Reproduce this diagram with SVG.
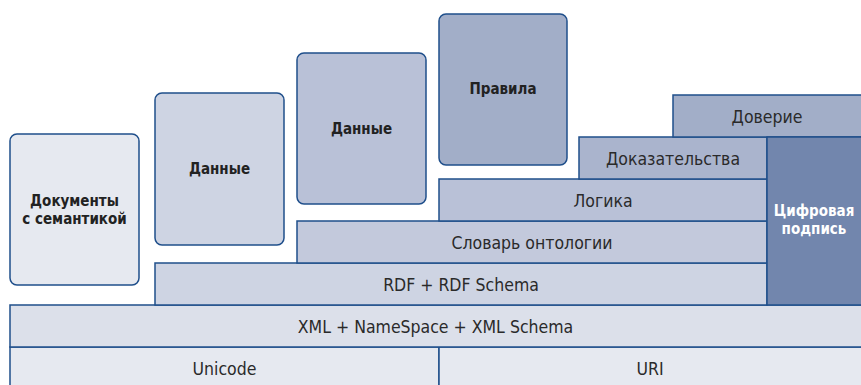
<svg xmlns="http://www.w3.org/2000/svg" width="861" height="385" viewBox="0 0 861 385">
  <style>
    .box { stroke: #1f4f8b; stroke-width: 1.5; }
    .lbl { font-family: "DejaVu Sans Condensed", "DejaVu Sans", sans-serif; font-stretch: condensed; font-size: 17.5px; fill: #2a2a2a; text-anchor: middle; }
    .bold { font-weight: bold; font-size: 15px; fill: #222; }
    .white { fill: #ffffff; }
  </style>
  <rect width="861" height="385" fill="#ffffff"/>

  <!-- free-standing rounded blocks -->
  <g id="docs">
    <rect class="box" x="10" y="134" width="129" height="151" rx="7" fill="#e6e9f0"/>
    <text class="lbl bold" x="74.5" y="206">Документы</text>
    <text class="lbl bold" x="74.5" y="224">с семантикой</text>
  </g>
  <g id="data1">
    <rect class="box" x="155" y="93" width="129" height="152" rx="7" fill="#ced4e3"/>
    <text class="lbl bold" x="219.5" y="174">Данные</text>
  </g>
  <g id="data2">
    <rect class="box" x="297" y="53" width="129" height="151" rx="7" fill="#b9c1d7"/>
    <text class="lbl bold" x="361.5" y="134">Данные</text>
  </g>
  <g id="rules">
    <rect class="box" x="439" y="14" width="128" height="151" rx="7" fill="#a2aec8"/>
    <text class="lbl bold" x="503" y="94">Правила</text>
  </g>

  <!-- layered stack -->
  <g id="unicode">
    <rect class="box" x="10" y="347" width="429" height="45" fill="#e6e9f0"/>
    <text class="lbl" x="224.5" y="375">Unicode</text>
  </g>
  <g id="uri">
    <rect class="box" x="439" y="347" width="430" height="45" fill="#e6e9f0"/>
    <text class="lbl" x="650" y="375">URI</text>
  </g>
  <g id="xml">
    <rect class="box" x="10" y="305" width="859" height="42" fill="#dce0ea"/>
    <text class="lbl" x="435.5" y="333">XML + NameSpace + XML Schema</text>
  </g>
  <g id="rdf">
    <rect class="box" x="155" y="263" width="612" height="42" fill="#ced4e3"/>
    <text class="lbl" x="461" y="291">RDF + RDF Schema</text>
  </g>
  <g id="ontology">
    <rect class="box" x="297" y="221" width="470" height="42" fill="#c3c9dc"/>
    <text class="lbl" x="532" y="249">Словарь онтологии</text>
  </g>
  <g id="logic">
    <rect class="box" x="439" y="179" width="328" height="42" fill="#b9c1d7"/>
    <text class="lbl" x="603" y="207">Логика</text>
  </g>
  <g id="proof">
    <rect class="box" x="579" y="137" width="188" height="42" fill="#aab4cd"/>
    <text class="lbl" x="673" y="165">Доказательства</text>
  </g>
  <g id="trust">
    <rect class="box" x="673" y="95" width="196" height="42" fill="#a2aec8"/>
    <text class="lbl" x="767" y="123">Доверие</text>
  </g>
  <g id="signature">
    <rect class="box" x="767" y="137" width="102" height="168" fill="#7286ad"/>
    <text class="lbl bold white" x="814" y="216">Цифровая</text>
    <text class="lbl bold white" x="814" y="234">подпись</text>
  </g>

  <g id="connectors"></g>
</svg>
